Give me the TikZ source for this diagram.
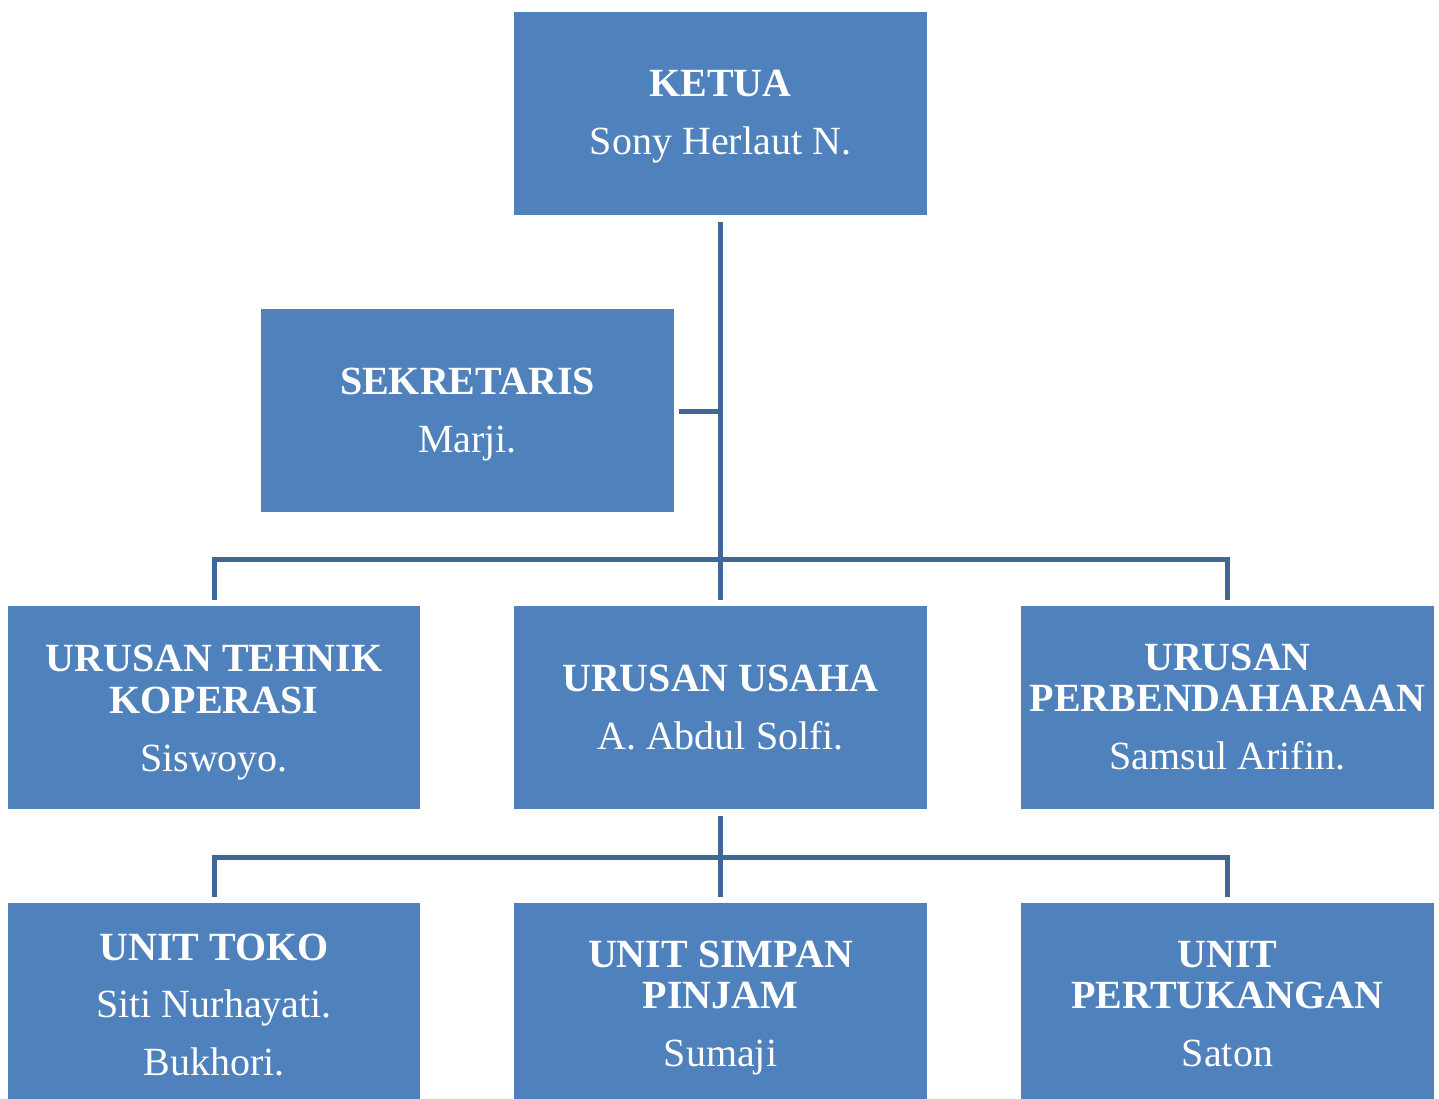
\documentclass[tikz,border=0pt]{standalone}
\usepackage{fontspec}
\setmainfont{Liberation Serif}
\definecolor{boxfill}{HTML}{4F81BD}
\definecolor{linec}{HTML}{3F6797}
\begin{document}
\begin{tikzpicture}[x=1pt,y=-1pt,
  orgbox/.style={fill=boxfill,draw=none,inner sep=0pt,anchor=north west},
  ttl/.style={text=white,font=\fontsize{40}{42}\selectfont\bfseries,anchor=base,inner sep=0pt},
  nm/.style={text=white,font=\fontsize{40}{42}\selectfont,anchor=base,inner sep=0pt},
  conn/.style={draw=linec,line width=5pt}]
\useasboundingbox (0,0) rectangle (1439,1099);
\fill[white] (0,0) rectangle (1439,1099);
% boxes
\node[orgbox,minimum width=413pt,minimum height=203pt] (ketua) at (514,12) {};
\node[orgbox,minimum width=413pt,minimum height=203pt] (sek) at (261,309) {};
\node[orgbox,minimum width=412pt,minimum height=203pt] (tehnik) at (8,606) {};
\node[orgbox,minimum width=413pt,minimum height=203pt] (usaha) at (514,606) {};
\node[orgbox,minimum width=413pt,minimum height=203pt] (bend) at (1021,606) {};
\node[orgbox,minimum width=412pt,minimum height=200pt] (toko) at (8,903) {};
\node[orgbox,minimum width=413pt,minimum height=200pt] (simpan) at (514,903) {};
\node[orgbox,minimum width=413pt,minimum height=200pt] (tukang) at (1021,903) {};
% texts
\node[ttl] (t1) at (720.5,97) {KETUA};
\node[nm] (n1) at (720.5,155) {Sony Herlaut N.};
\node[ttl] (t2) at (467.5,394) {SEKRETARIS};
\node[nm] (n2) at (467.5,452) {Marji.};
\node[ttl] (t3a) at (214,671) {URUSAN TEHNIK};
\node[ttl] (t3b) at (214,713) {KOPERASI};
\node[nm] (n3) at (214,771) {Siswoyo.};
\node[ttl] (t4) at (720.5,691) {URUSAN USAHA};
\node[nm] (n4) at (720.5,749) {A. Abdul Solfi.};
\node[ttl] (t5a) at (1227.5,670) {URUSAN};
\node[ttl] (t5b) at (1227.5,711) {PERBENDAHARAAN};
\node[nm] (n5) at (1227.5,769) {Samsul Arifin.};
\node[ttl] (t6) at (214,960) {UNIT TOKO};
\node[nm] (n6a) at (214,1017) {Siti Nurhayati.};
\node[nm] (n6b) at (214,1075) {Bukhori.};
\node[ttl] (t7a) at (720.5,967) {UNIT SIMPAN};
\node[ttl] (t7b) at (720.5,1008) {PINJAM};
\node[nm] (n7) at (720.5,1066) {Sumaji};
\node[ttl] (t8a) at (1227.5,967) {UNIT};
\node[ttl] (t8b) at (1227.5,1008) {PERTUKANGAN};
\node[nm] (n8) at (1227.5,1066) {Saton};
% connectors
\coordinate (k0) at (720.5,222);
\coordinate (s0) at (720.5,411);
\coordinate (s1) at (679,411);
\coordinate (bl) at (214,559);
\coordinate (br) at (1227.5,559);
\coordinate (d1l) at (214,600);
\coordinate (d1m) at (720.5,600);
\coordinate (d1r) at (1227.5,600);
\draw[conn] (k0) -- (d1m);
\draw[conn] (s1) -- (s0);
\draw[conn] (d1l) -- (bl) -- (br) -- (d1r);
\coordinate (u0) at (720.5,816);
\coordinate (c2l) at (214,857);
\coordinate (c2r) at (1227.5,857);
\coordinate (d2l) at (214,897);
\coordinate (d2m) at (720.5,897);
\coordinate (d2r) at (1227.5,897);
\draw[conn] (u0) -- (d2m);
\draw[conn] (d2l) -- (c2l) -- (c2r) -- (d2r);
\end{tikzpicture}
\end{document}
